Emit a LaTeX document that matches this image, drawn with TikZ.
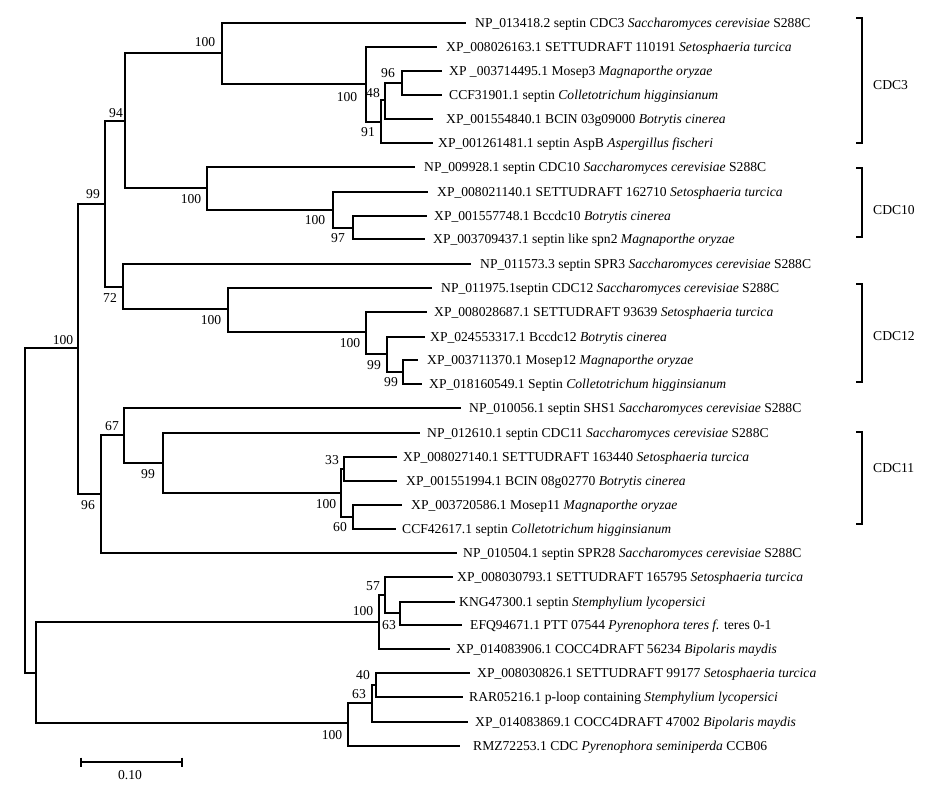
\documentclass[tikz,border=0pt]{standalone}
\usepackage{fontspec}
\setmainfont{Liberation Serif}
\begin{document}
\begin{tikzpicture}[x=1pt,y=-1pt,
  br/.style={line width=1.3pt},
  lab/.style={font=\fontsize{13.6}{16}\selectfont, inner sep=0pt, anchor=base west, yshift=-4.6pt},
  bs/.style={font=\fontsize{13.6}{16}\selectfont, inner sep=0pt, anchor=base, yshift=-4.6pt},
  grp/.style={font=\fontsize{13.6}{16}\selectfont, inner sep=0pt, anchor=base west, yshift=-4.6pt}]
\useasboundingbox (0,0) rectangle (946,804);
% internal nodes
\coordinate (root) at (25,510);
\coordinate (nA) at (78,348);
\coordinate (n99) at (105,204);
\coordinate (n94) at (125,121);
\coordinate (c3) at (222,53);
\coordinate (c3b) at (366,84);
\coordinate (n91) at (381,122);
\coordinate (n48) at (385,100);
\coordinate (n96b) at (402,83);
\coordinate (c10) at (207,188);
\coordinate (c10b) at (333,210);
\coordinate (n97) at (353,228);
\coordinate (n72) at (123,287);
\coordinate (c12) at (228,309);
\coordinate (c12b) at (366,332);
\coordinate (n99a) at (387,354);
\coordinate (n99b) at (403,372);
\coordinate (n96) at (101,494);
\coordinate (n67) at (124,435);
\coordinate (n99c) at (163,463);
\coordinate (c11) at (341,493);
\coordinate (n33) at (344,469);
\coordinate (n60) at (353,517);
\coordinate (nB) at (36,673);
\coordinate (nf) at (379,622);
\coordinate (n57) at (385,595);
\coordinate (n63a) at (400,613);
\coordinate (ng) at (348,723);
\coordinate (n63b) at (372,703);
\coordinate (n40) at (376,685);
% leaf ends
\coordinate (e1) at (466,23);
\coordinate (e2) at (437,47);
\coordinate (e3) at (442,71);
\coordinate (e4) at (442,95);
\coordinate (e5) at (433,119);
\coordinate (e6) at (433,143);
\coordinate (e7) at (415,167);
\coordinate (e8) at (428,192);
\coordinate (e9) at (427,216);
\coordinate (e10) at (425,239);
\coordinate (e11) at (471,264);
\coordinate (e12) at (432,288);
\coordinate (e13) at (427,312);
\coordinate (e14) at (425,337);
\coordinate (e15) at (418,360);
\coordinate (e16) at (422,384);
\coordinate (e17) at (461,408);
\coordinate (e18) at (420,433);
\coordinate (e19) at (397,457);
\coordinate (e20) at (397,481);
\coordinate (e21) at (402,505);
\coordinate (e22) at (396,529);
\coordinate (e23) at (457,553);
\coordinate (e24) at (453,577);
\coordinate (e25) at (455,602);
\coordinate (e26) at (462,625);
\coordinate (e27) at (450,649);
\coordinate (e28) at (470,673);
\coordinate (e29) at (463,697);
\coordinate (e30) at (468,722);
\coordinate (e31) at (460,746);
% branches
\draw[br] (root) |- (nA);  \draw[br] (root) |- (nB);
\draw[br] (nA) |- (n99);   \draw[br] (nA) |- (n96);
\draw[br] (n99) |- (n94);  \draw[br] (n99) |- (n72);
\draw[br] (n94) |- (c3);   \draw[br] (n94) |- (c10);
\draw[br] (c3) |- (e1);    \draw[br] (c3) |- (c3b);
\draw[br] (c3b) |- (e2);   \draw[br] (c3b) |- (n91);
\draw[br] (n91) |- (n48);  \draw[br] (n91) |- (e6);
\draw[br] (n48) |- (n96b); \draw[br] (n48) |- (e5);
\draw[br] (n96b) |- (e3);  \draw[br] (n96b) |- (e4);
\draw[br] (c10) |- (e7);   \draw[br] (c10) |- (c10b);
\draw[br] (c10b) |- (e8);  \draw[br] (c10b) |- (n97);
\draw[br] (n97) |- (e9);   \draw[br] (n97) |- (e10);
\draw[br] (n72) |- (e11);  \draw[br] (n72) |- (c12);
\draw[br] (c12) |- (e12);  \draw[br] (c12) |- (c12b);
\draw[br] (c12b) |- (e13); \draw[br] (c12b) |- (n99a);
\draw[br] (n99a) |- (e14); \draw[br] (n99a) |- (n99b);
\draw[br] (n99b) |- (e15); \draw[br] (n99b) |- (e16);
\draw[br] (n96) |- (n67);  \draw[br] (n96) |- (e23);
\draw[br] (n67) |- (e17);  \draw[br] (n67) |- (n99c);
\draw[br] (n99c) |- (e18); \draw[br] (n99c) |- (c11);
\draw[br] (c11) |- (n33);  \draw[br] (c11) |- (n60);
\draw[br] (n33) |- (e19);  \draw[br] (n33) |- (e20);
\draw[br] (n60) |- (e21);  \draw[br] (n60) |- (e22);
\draw[br] (nB) |- (nf);    \draw[br] (nB) |- (ng);
\draw[br] (nf) |- (n57);   \draw[br] (nf) |- (e27);
\draw[br] (n57) |- (e24);  \draw[br] (n57) |- (n63a);
\draw[br] (n63a) |- (e25); \draw[br] (n63a) |- (e26);
\draw[br] (ng) |- (n63b);  \draw[br] (ng) |- (e31);
\draw[br] (n63b) |- (n40); \draw[br] (n63b) |- (e30);
\draw[br] (n40) |- (e28);  \draw[br] (n40) |- (e29);
% leaf labels
\node[lab] (t1) at (475,23) {NP\_013418.2 septin CDC3 \textit{Saccharomyces cerevisiae} S288C};
\node[lab] (t2) at (446,47) {XP\_008026163.1 SETTUDRAFT 110191 \textit{Setosphaeria turcica}};
\node[lab] (t3) at (449,71) {XP \_003714495.1 Mosep3 \textit{Magnaporthe oryzae}};
\node[lab] (t4) at (449,95) {CCF31901.1 septin \textit{Colletotrichum higginsianum}};
\node[lab] (t5) at (446,119) {XP\_001554840.1 BCIN 03g09000 \textit{Botrytis cinerea}};
\node[lab] (t6) at (438,143) {XP\_001261481.1 septin AspB \textit{Aspergillus fischeri}};
\node[lab] (t7) at (424,167) {NP\_009928.1 septin CDC10 \textit{Saccharomyces cerevisiae} S288C};
\node[lab] (t8) at (437,192) {XP\_008021140.1 SETTUDRAFT 162710 \textit{Setosphaeria turcica}};
\node[lab] (t9) at (434,216) {XP\_001557748.1 Bccdc10 \textit{Botrytis cinerea}};
\node[lab] (t10) at (433,239) {XP\_003709437.1 septin like spn2 \textit{Magnaporthe oryzae}};
\node[lab] (t11) at (480,264) {NP\_011573.3 septin SPR3 \textit{Saccharomyces cerevisiae} S288C};
\node[lab] (t12) at (441,288) {NP\_011975.1septin CDC12 \textit{Saccharomyces cerevisiae} S288C};
\node[lab] (t13) at (434,312) {XP\_008028687.1 SETTUDRAFT 93639 \textit{Setosphaeria turcica}};
\node[lab] (t14) at (430,337) {XP\_024553317.1 Bccdc12 \textit{Botrytis cinerea}};
\node[lab] (t15) at (427,360) {XP\_003711370.1 Mosep12 \textit{Magnaporthe oryzae}};
\node[lab] (t16) at (429,384) {XP\_018160549.1 Septin \textit{Colletotrichum higginsianum}};
\node[lab] (t17) at (469,408) {NP\_010056.1 septin SHS1 \textit{Saccharomyces cerevisiae} S288C};
\node[lab] (t18) at (427,433) {NP\_012610.1 septin CDC11 \textit{Saccharomyces cerevisiae} S288C};
\node[lab] (t19) at (403,457) {XP\_008027140.1 SETTUDRAFT 163440 \textit{Setosphaeria turcica}};
\node[lab] (t20) at (406,481) {XP\_001551994.1 BCIN 08g02770 \textit{Botrytis cinerea}};
\node[lab] (t21) at (411,505) {XP\_003720586.1 Mosep11 \textit{Magnaporthe oryzae}};
\node[lab] (t22) at (402,529) {CCF42617.1 septin \textit{Colletotrichum higginsianum}};
\node[lab] (t23) at (463,553) {NP\_010504.1 septin SPR28 \textit{Saccharomyces cerevisiae} S288C};
\node[lab] (t24) at (457,577) {XP\_008030793.1 SETTUDRAFT 165795 \textit{Setosphaeria turcica}};
\node[lab] (t25) at (459,602) {KNG47300.1 septin \textit{Stemphylium lycopersici}};
\node[lab] (t26) at (470,625) {EFQ94671.1 PTT 07544 \textit{Pyrenophora teres f.} teres 0-1};
\node[lab] (t27) at (456,649) {XP\_014083906.1 COCC4DRAFT 56234 \textit{Bipolaris maydis}};
\node[lab] (t28) at (477,673) {XP\_008030826.1 SETTUDRAFT 99177 \textit{Setosphaeria turcica}};
\node[lab] (t29) at (469,697) {RAR05216.1 p-loop containing \textit{Stemphylium lycopersici}};
\node[lab] (t30) at (475,722) {XP\_014083869.1 COCC4DRAFT 47002 \textit{Bipolaris maydis}};
\node[lab] (t31) at (473,746) {RMZ72253.1 CDC \textit{Pyrenophora seminiperda} CCB06};
% bootstrap values
\node[bs] (b1) at (63,340) {100};
\node[bs] (b2) at (93,194) {99};
\node[bs] (b3) at (116,113) {94};
\node[bs] (b4) at (205,42) {100};
\node[bs] (b5) at (347,97) {100};
\node[bs] (b6) at (368,132) {91};
\node[bs] (b7) at (373,93) {48};
\node[bs] (b8) at (388,73) {96};
\node[bs] (b9) at (191,199) {100};
\node[bs] (b10) at (315,220) {100};
\node[bs] (b11) at (338,238) {97};
\node[bs] (b12) at (110,298) {72};
\node[bs] (b13) at (211,320) {100};
\node[bs] (b14) at (350,343) {100};
\node[bs] (b15) at (374,365) {99};
\node[bs] (b16) at (391,382) {99};
\node[bs] (b17) at (88,505) {96};
\node[bs] (b18) at (112,426) {67};
\node[bs] (b19) at (148,474) {99};
\node[bs] (b20) at (326,504) {100};
\node[bs] (b21) at (332,460) {33};
\node[bs] (b22) at (340,527) {60};
\node[bs] (b23) at (363,611) {100};
\node[bs] (b24) at (373,586) {57};
\node[bs] (b25) at (389,625) {63};
\node[bs] (b26) at (332,735) {100};
\node[bs] (b27) at (359,694) {63};
\node[bs] (b28) at (363,675) {40};
% group brackets
\draw[br] (856,18) -- (862,18) -- (862,143) -- (856,143);
\node[grp] (g1) at (873,85) {CDC3};
\draw[br] (856,168) -- (862,168) -- (862,237) -- (856,237);
\node[grp] (g2) at (873,210) {CDC10};
\draw[br] (856,284) -- (862,284) -- (862,382) -- (856,382);
\node[grp] (g3) at (873,336) {CDC12};
\draw[br] (856,432) -- (862,432) -- (862,524) -- (856,524);
\node[grp] (g4) at (873,468) {CDC11};
% scale bar
\coordinate (s1) at (81,762);
\coordinate (s2) at (182,762);
\draw[br] (s1) -- (s2);
\draw[br] ([yshift=4.5pt]s1) -- ([yshift=-4.5pt]s1);
\draw[br] ([yshift=4.5pt]s2) -- ([yshift=-4.5pt]s2);
\node[bs] (sl) at (130,775) {0.10};
\end{tikzpicture}
\end{document}
